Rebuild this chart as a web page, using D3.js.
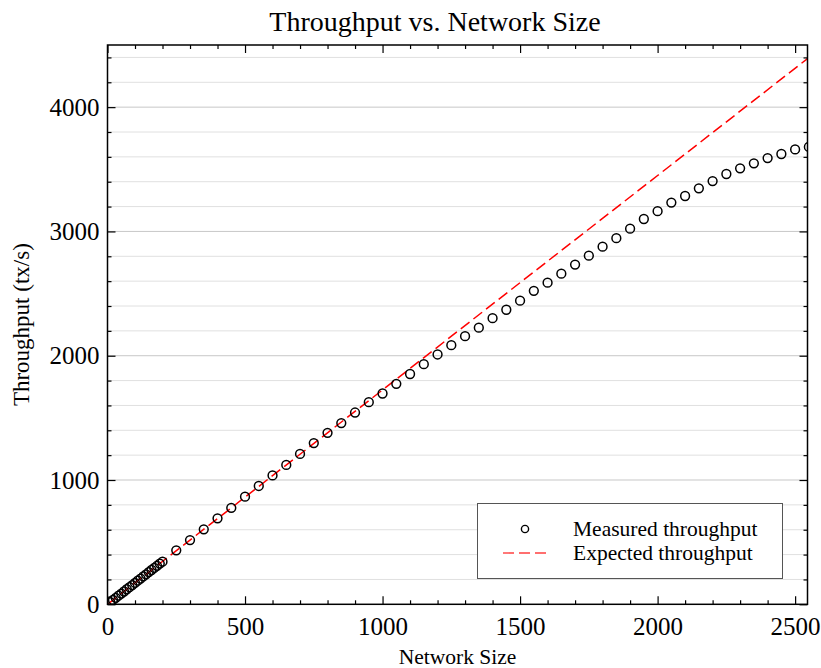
<!DOCTYPE html>
<html>
<head>
<meta charset="utf-8">
<script src="https://cdn.jsdelivr.net/npm/d3@7"></script>
<style>
  html, body { margin: 0; padding: 0; background: #fff; }
  svg { display: block; }
  text { font-family: "Liberation Serif", "Times New Roman", serif; fill: #000; }
</style>
</head>
<body>
<svg id="chart" width="821" height="668"></svg>
<script>
// ---- data ----
const networkSizes = [10, 20, 30, 40, 50, 60, 70, 80, 90, 100, 110, 120, 130, 140, 150, 160, 170, 180, 190, 200,
  250, 300, 350, 400, 450, 500, 550, 600, 650, 700, 750, 800, 850, 900, 950, 1000,
  1050, 1100, 1150, 1200, 1250, 1300, 1350, 1400, 1450, 1500, 1550, 1600, 1650, 1700,
  1750, 1800, 1850, 1900, 1950, 2000, 2050, 2100, 2150, 2200, 2250, 2300, 2350, 2400,
  2450, 2500, 2550];
const measuredThroughput = [17, 35, 52, 69, 86, 103, 121, 138, 155, 172, 190, 207, 224, 241, 259, 276, 293, 310, 328, 343,
  434, 517, 603, 692, 776, 866, 952, 1037, 1121, 1210, 1297, 1380, 1458, 1543, 1626, 1696,
  1774, 1853, 1932, 2010, 2085, 2157, 2226, 2302, 2370, 2443, 2522, 2588, 2660, 2733,
  2805, 2877, 2946, 3022, 3100, 3163, 3232, 3285, 3347, 3405, 3462, 3508, 3548, 3590,
  3623, 3660, 3680];
const expectedSizes = [0, 500, 1000, 1500, 2000, 2550];
const expectedThroughput = [0, 862, 1725, 2588, 3450, 4399];
const xMajorTicks = [0, 500, 1000, 1500, 2000, 2500];
const yMajorTicks = [0, 1000, 2000, 3000, 4000];
const xDomain = [0, 2545];
const yDomain = [0, 4500];
const titleText = "Throughput vs. Network Size";
const xLabelText = "Network Size";
const yLabelText = "Throughput (tx/s)";
const legendLabels = ["Measured throughput", "Expected throughput"];

// ---- layout ----
const svg = d3.select("#chart");
const L = 107.5, R = 807.5, T = 45, B = 604.3;

const x = d3.scaleLinear().domain(xDomain).range([L, R]);
const y = d3.scaleLinear().domain(yDomain).range([B, T]);

const xMinor = d3.range(0, xDomain[1] + 1, 100).filter(v => v % 500 !== 0);
const yMinor = d3.range(0, yDomain[1] + 1, 200).filter(v => v % 1000 !== 0 && v < yDomain[1]);
const yGrid = d3.range(200, yDomain[1], 200);

// gridlines
svg.append("g").selectAll("line").data(yGrid).join("line")
  .attr("x1", L).attr("x2", R)
  .attr("y1", d => y(d)).attr("y2", d => y(d))
  .attr("stroke", d => d % 1000 === 0 ? "#8f8f8f" : "#c0c0c0")
  .attr("stroke-width", 1)
  .attr("stroke-dasharray", "1,1");

// clip
svg.append("clipPath").attr("id", "clip")
  .append("rect").attr("x", L).attr("y", T).attr("width", R - L).attr("height", B - T);

// expected line
const lineGen = d3.line().x(d => x(d[0])).y(d => y(d[1]));
svg.append("path")
  .attr("clip-path", "url(#clip)")
  .attr("d", lineGen(expectedSizes.map((s, i) => [s, expectedThroughput[i]])))
  .attr("fill", "none")
  .attr("stroke", "#ff0000")
  .attr("stroke-width", 1.5)
  .attr("stroke-dasharray", "11,5");

// measured circles
svg.append("g").attr("clip-path", "url(#clip)")
  .selectAll("circle").data(networkSizes.map((s, i) => [s, measuredThroughput[i]])).join("circle")
  .attr("cx", d => x(d[0])).attr("cy", d => y(d[1]))
  .attr("r", 4.4)
  .attr("fill", "none")
  .attr("stroke", "#000")
  .attr("stroke-width", 1.5);

// axes
function styleAxis(g) {
  g.select(".domain").remove();
  g.selectAll(".tick line").attr("stroke", "#000").attr("stroke-width", 1.2);
  g.selectAll("text").style("font-family", "'Liberation Serif', serif").style("font-size", "25px").attr("fill", "#000");
}
svg.append("g").attr("transform", `translate(0,${B})`)
  .call(d3.axisBottom(x).tickValues(xMajorTicks).tickSize(-8).tickPadding(13).tickFormat(d3.format("d")))
  .call(styleAxis);
svg.append("g").attr("transform", `translate(0,${B})`)
  .call(d3.axisBottom(x).tickValues(xMinor).tickSize(-4).tickFormat(""))
  .call(styleAxis);
svg.append("g").attr("transform", `translate(0,${T})`)
  .call(d3.axisTop(x).tickValues(xMajorTicks).tickSize(-8).tickFormat(""))
  .call(styleAxis);
svg.append("g").attr("transform", `translate(0,${T})`)
  .call(d3.axisTop(x).tickValues(xMinor).tickSize(-4).tickFormat(""))
  .call(styleAxis);
svg.append("g").attr("transform", `translate(${L},0)`)
  .call(d3.axisLeft(y).tickValues(yMajorTicks).tickSize(-8).tickPadding(8).tickFormat(d3.format("d")))
  .call(styleAxis);
svg.append("g").attr("transform", `translate(${L},0)`)
  .call(d3.axisLeft(y).tickValues(yMinor).tickSize(-4).tickFormat(""))
  .call(styleAxis);
svg.append("g").attr("transform", `translate(${R},0)`)
  .call(d3.axisRight(y).tickValues(yMajorTicks).tickSize(-8).tickFormat(""))
  .call(styleAxis);
svg.append("g").attr("transform", `translate(${R},0)`)
  .call(d3.axisRight(y).tickValues(yMinor).tickSize(-4).tickFormat(""))
  .call(styleAxis);

// frame
svg.append("rect").attr("x", L).attr("y", T).attr("width", R - L).attr("height", B - T)
  .attr("fill", "none").attr("stroke", "#000").attr("stroke-width", 1.5);

// title and labels
svg.append("text").attr("x", 435).attr("y", 31).attr("text-anchor", "middle")
  .style("font-size", "28px").text(titleText);
svg.append("text").attr("x", 457.5).attr("y", 664).attr("text-anchor", "middle")
  .style("font-size", "21.5px").text(xLabelText);
svg.append("text").attr("transform", `translate(29,${(T + B) / 2}) rotate(-90)`).attr("text-anchor", "middle")
  .style("font-size", "23px").text(yLabelText);

// legend
const lg = svg.append("g");
lg.append("rect").attr("x", 477.5).attr("y", 503.5).attr("width", 305).attr("height", 75)
  .attr("fill", "#fff").attr("stroke", "#555").attr("stroke-width", 1);
lg.append("circle").attr("cx", 525).attr("cy", 529).attr("r", 3.6)
  .attr("fill", "none").attr("stroke", "#000").attr("stroke-width", 1.4);
lg.append("line").attr("x1", 503).attr("x2", 548).attr("y1", 553).attr("y2", 553)
  .attr("stroke", "#ff4040").attr("stroke-width", 1.4).attr("stroke-dasharray", "11,5");
lg.selectAll("text.leg").data(legendLabels).join("text").attr("class", "leg")
  .attr("x", 573).attr("y", (d, i) => 536 + i * 24)
  .style("font-size", "21.5px").text(d => d);
</script>
</body>
</html>
